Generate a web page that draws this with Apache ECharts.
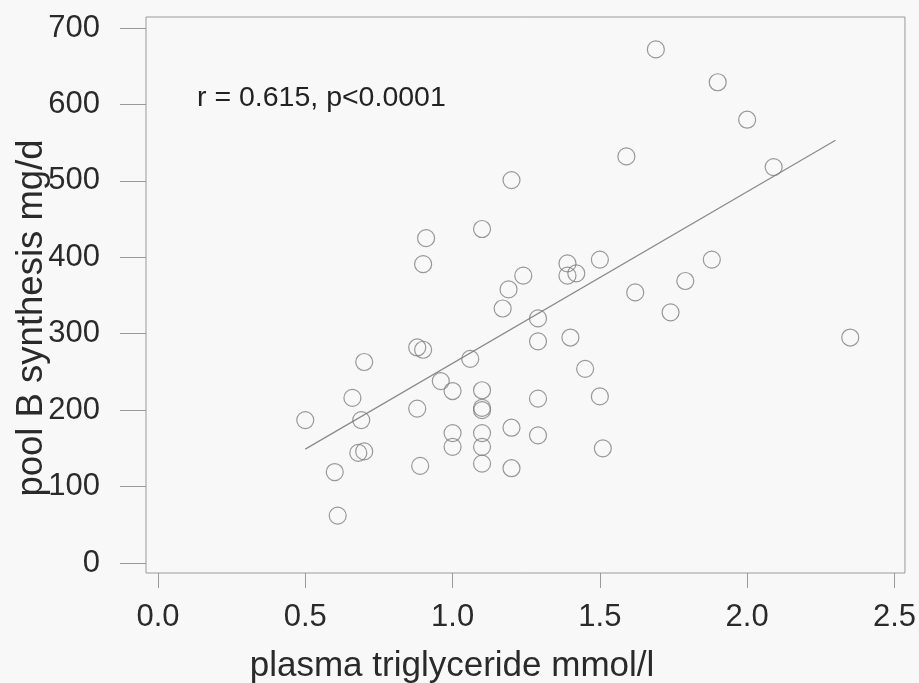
<!DOCTYPE html>
<html>
<head>
<meta charset="utf-8">
<script src="https://cdn.jsdelivr.net/npm/echarts@6/dist/echarts.min.js"></script>
<style>
html,body{margin:0;padding:0;background:#f8f8f8;}
#chart{width:919px;height:683px;}
</style>
</head>
<body>
<div id="chart"></div>
<script>
// plasma triglyceride (mmol/l)
var triglyceride = [0.50,0.70,0.66,0.69,0.68,0.70,0.60,0.61,0.88,0.90,0.88,0.89,0.91,0.90,0.96,1.00,1.00,1.00,1.06,1.10,1.10,1.10,1.10,1.10,1.10,1.10,1.20,1.24,1.19,1.17,1.39,1.39,1.42,1.50,1.29,1.29,1.40,1.62,1.45,1.29,1.50,1.20,1.29,1.51,1.20,1.69,1.90,2.00,1.59,2.09,1.88,1.79,1.74,2.35];
// apoB pool B synthesis (mg/d)
var synthesis = [187,263,216,187,144,146,119,62,282,279,202,127,425,391,238,225,170,152,267,226,203,200,170,152,130,437,501,376,358,333,392,376,379,397,320,290,295,354,254,215,218,177,167,150,124,672,629,580,532,518,397,369,328,295];
// regression line end points [x, y]
var fitLine = [[0.50,149],[2.30,553]];
var xTicks = [0,0.5,1.0,1.5,2.0,2.5];
var yTicks = [0,100,200,300,400,500,600,700];
var annotation = 'r = 0.615, p<0.0001';
var xTitle = 'plasma triglyceride mmol/l';
var yTitle = 'pool B synthesis mg/d';

var points = triglyceride.map(function(x,i){return [x, synthesis[i]];});
var font = "'Liberation Sans', Arial, sans-serif";
var chart = echarts.init(document.getElementById('chart'));
chart.setOption({
  backgroundColor:'#f8f8f8',
  animation:false,
  grid:{left:146,right:13,top:17,bottom:110,show:true,borderColor:'#9a9a9a',borderWidth:1,backgroundColor:'transparent'},
  xAxis:{type:'value',min:-0.0407,max:2.5356,
    axisLine:{show:false,onZero:false},splitLine:{show:false},
    axisTick:{show:true,customValues:xTicks,length:15,lineStyle:{color:'#9a9a9a',width:1}},
    axisLabel:{customValues:xTicks,margin:29,fontSize:31,color:'#2a2a2a',fontFamily:font,
      formatter:function(v){return v.toFixed(1);}}
  },
  yAxis:{type:'value',min:-13.1,max:714.4,
    axisLine:{show:false,onZero:false},splitLine:{show:false},
    axisTick:{show:true,customValues:yTicks,length:26,lineStyle:{color:'#9a9a9a',width:1}},
    axisLabel:{customValues:yTicks,margin:46,fontSize:31,color:'#2a2a2a',fontFamily:font}
  },
  series:[
    {type:'scatter',data:points,symbol:'circle',symbolSize:17,
      itemStyle:{color:'rgba(0,0,0,0)',borderColor:'#808080',borderWidth:1.2},z:3},
    {type:'line',data:fitLine,symbol:'none',lineStyle:{color:'#8a8a8a',width:1.2},z:2}
  ],
  graphic:[
    {type:'text',left:197,top:84,style:{text:annotation,fontSize:28.5,fontFamily:font,fill:'#222'}},
    {type:'text',x:452,y:666,style:{text:xTitle,fontSize:35,fontFamily:font,fill:'#2a2a2a',align:'center',verticalAlign:'middle'}},
    {type:'text',x:32,y:318,rotation:Math.PI/2,style:{text:yTitle,fontSize:36.5,fontFamily:font,fill:'#2a2a2a',align:'center',verticalAlign:'middle'}}
  ]
});
</script>
</body>
</html>
